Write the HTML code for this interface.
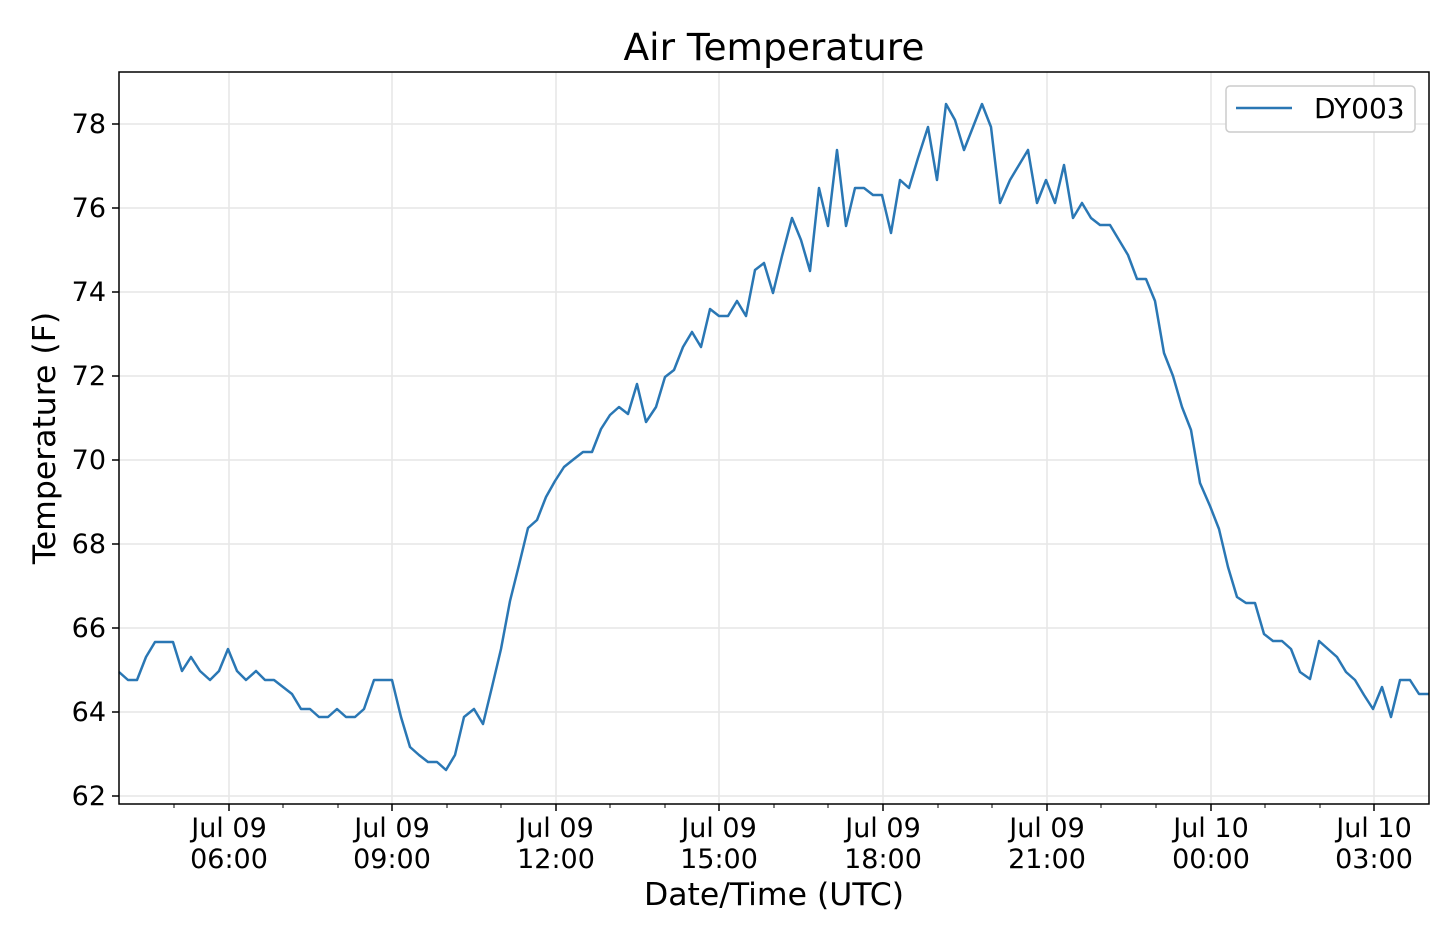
<!DOCTYPE html>
<html><head><meta charset="utf-8"><style>body{margin:0;background:#fff}svg{display:block}</style></head>
<body>
<svg width="1440" height="925" xmlns="http://www.w3.org/2000/svg" font-family="'DejaVu Sans','Liberation Sans',sans-serif">
<rect width="1440" height="925" fill="#fff"/>
<g stroke="#e6e6e6" stroke-width="1.5">
<line x1="229" y1="72" x2="229" y2="804"/><line x1="392" y1="72" x2="392" y2="804"/><line x1="556" y1="72" x2="556" y2="804"/><line x1="719" y1="72" x2="719" y2="804"/><line x1="883" y1="72" x2="883" y2="804"/><line x1="1047" y1="72" x2="1047" y2="804"/><line x1="1211" y1="72" x2="1211" y2="804"/><line x1="1374" y1="72" x2="1374" y2="804"/>
<line x1="119" y1="124" x2="1429" y2="124"/><line x1="119" y1="208" x2="1429" y2="208"/><line x1="119" y1="292" x2="1429" y2="292"/><line x1="119" y1="376" x2="1429" y2="376"/><line x1="119" y1="460" x2="1429" y2="460"/><line x1="119" y1="544" x2="1429" y2="544"/><line x1="119" y1="628" x2="1429" y2="628"/><line x1="119" y1="712" x2="1429" y2="712"/><line x1="119" y1="796" x2="1429" y2="796"/>
</g>
<polyline fill="none" stroke="#2a77b4" stroke-width="2.5" stroke-linejoin="round" points="119,672 128,680 137,680 146,657 155,642 164,642 173,642 182,671 191,657 200,671 210,680 219,671 228,649 237,671 246,680 256,671 265,680 274,680 283,687 292,694 301,709 310,709 319,717 328,717 337,709 346,717 355,717 364,709 374,680 383,680 392,680 401,717 410,747 419,755 428,762 437,762 446,770 455,755 464,717 474,709 483,724 492,687 501,649 510,601 519,565 528,528 537,520 546,497 555,481 564,467 574,459 583,452 592,452 601,429 610,415 619,407 628,414 637,384 646,422 656,407 665,377 674,370 683,347 692,332 701,347 710,309 719,316 728,316 737,301 746,316 755,270 764,263 773,293 782,256 792,218 801,240 810,271 819,188 828,226 837,150 846,226 855,188 864,188 873,195 882,195 891,233 900,180 909,188 918,158 928,127 937,180 946,104 955,120 964,150 973,127 982,104 991,127 1000,203 1010,180 1019,165 1028,150 1037,203 1046,180 1055,203 1064,165 1073,218 1082,203 1091,218 1100,225 1110,225 1119,240 1128,255 1137,279 1146,279 1155,301 1164,353 1173,376 1182,407 1191,430 1200,483 1210,506 1219,529 1228,567 1237,597 1246,603 1255,603 1264,634 1273,641 1282,641 1291,649 1300,672 1310,679 1319,641 1328,649 1337,657 1346,672 1355,680 1364,695 1373,709 1382,687 1391,717 1400,680 1410,680 1419,694 1429,694"/>
<rect x="119" y="72" width="1310" height="732" fill="none" stroke="#000" stroke-width="1.5"/>
<g stroke="#000" stroke-width="1.5">
<line x1="112" y1="124" x2="119" y2="124"/><line x1="112" y1="208" x2="119" y2="208"/><line x1="112" y1="292" x2="119" y2="292"/><line x1="112" y1="376" x2="119" y2="376"/><line x1="112" y1="460" x2="119" y2="460"/><line x1="112" y1="544" x2="119" y2="544"/><line x1="112" y1="628" x2="119" y2="628"/><line x1="112" y1="712" x2="119" y2="712"/><line x1="112" y1="796" x2="119" y2="796"/>
<line x1="229" y1="804" x2="229" y2="811"/><line x1="392" y1="804" x2="392" y2="811"/><line x1="556" y1="804" x2="556" y2="811"/><line x1="719" y1="804" x2="719" y2="811"/><line x1="883" y1="804" x2="883" y2="811"/><line x1="1047" y1="804" x2="1047" y2="811"/><line x1="1211" y1="804" x2="1211" y2="811"/><line x1="1374" y1="804" x2="1374" y2="811"/>
</g>
<g stroke="#000" stroke-width="1">
<line x1="174" y1="804" x2="174" y2="808"/><line x1="283" y1="804" x2="283" y2="808"/><line x1="338" y1="804" x2="338" y2="808"/><line x1="447" y1="804" x2="447" y2="808"/><line x1="501" y1="804" x2="501" y2="808"/><line x1="610" y1="804" x2="610" y2="808"/><line x1="665" y1="804" x2="665" y2="808"/><line x1="774" y1="804" x2="774" y2="808"/><line x1="828" y1="804" x2="828" y2="808"/><line x1="938" y1="804" x2="938" y2="808"/><line x1="992" y1="804" x2="992" y2="808"/><line x1="1101" y1="804" x2="1101" y2="808"/><line x1="1156" y1="804" x2="1156" y2="808"/><line x1="1265" y1="804" x2="1265" y2="808"/><line x1="1320" y1="804" x2="1320" y2="808"/>
</g>
<g font-size="27" text-anchor="end" fill="#000">
<text x="106" y="133">78</text><text x="106" y="217">76</text><text x="106" y="301">74</text><text x="106" y="385">72</text><text x="106" y="469">70</text><text x="106" y="553">68</text><text x="106" y="637">66</text><text x="106" y="721">64</text><text x="106" y="805">62</text>
</g>
<g font-size="27" text-anchor="middle" fill="#000">
<text x="229" y="837">Jul 09</text><text x="229" y="868">06:00</text>
<text x="392" y="837">Jul 09</text><text x="392" y="868">09:00</text>
<text x="556" y="837">Jul 09</text><text x="556" y="868">12:00</text>
<text x="719" y="837">Jul 09</text><text x="719" y="868">15:00</text>
<text x="883" y="837">Jul 09</text><text x="883" y="868">18:00</text>
<text x="1047" y="837">Jul 09</text><text x="1047" y="868">21:00</text>
<text x="1211" y="837">Jul 10</text><text x="1211" y="868">00:00</text>
<text x="1374" y="837">Jul 10</text><text x="1374" y="868">03:00</text>
</g>
<text x="774" y="905" font-size="31.5" text-anchor="middle">Date/Time (UTC)</text>
<text transform="translate(55,438) rotate(-90)" font-size="31.5" text-anchor="middle">Temperature (F)</text>
<text x="774" y="60" font-size="37.5" text-anchor="middle">Air Temperature</text>
<rect x="1226" y="86" width="189" height="46" rx="4" fill="#fff" stroke="#ccc" stroke-width="1.5"/>
<line x1="1236" y1="108" x2="1292" y2="108" stroke="#2a77b4" stroke-width="2.5"/>
<text x="1314" y="118" font-size="28">DY003</text>
</svg>
</body></html>
